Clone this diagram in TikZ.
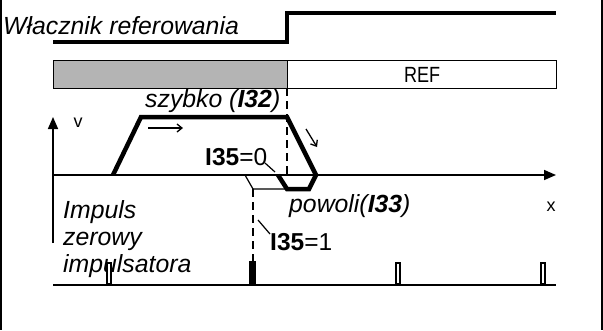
\documentclass[tikz,border=0pt]{standalone}
\usepackage{fontspec}
\setmainfont{Liberation Sans}
\usetikzlibrary{arrows.meta}
\definecolor{barGray}{HTML}{B4B4B4}
\begin{document}
\begin{tikzpicture}[x=1pt,y=-1pt,
  bigtxt/.style={font=\fontsize{24.8}{28}\selectfont\itshape, inner sep=0pt},
  plaintxt/.style={font=\fontsize{24.5}{28}\selectfont, inner sep=0pt},
  smalltxt/.style={font=\fontsize{18}{20}\selectfont, inner sep=0pt},
  frameline/.style={line width=1.8pt},
  sig/.style={line width=4pt, line join=miter},
  prof/.style={line width=4.5pt, line join=miter},
  axisline/.style={line width=1.6pt},
  axisarrow/.style={line width=1.6pt, -{Triangle[length=12pt,width=10pt]}},
  dashline/.style={line width=1.5pt, dash pattern=on 8pt off 5pt},
  thinline/.style={line width=1.2pt},
  smallarrow/.style={line width=1.3pt, -{Straight Barb[length=5pt,width=8pt]}},
  barbox/.style={draw, line width=1.2pt, inner sep=0pt, anchor=north west, minimum height=28pt},
  pulseopen/.style={draw, fill=white, line width=2.4pt, inner sep=0pt, anchor=south west, minimum width=3.6pt, minimum height=21pt},
  pulsefull/.style={draw, fill=black, line width=1pt, inner sep=0pt, anchor=south west, minimum width=6pt, minimum height=23pt},
]
\useasboundingbox (0,0) rectangle (603,330);
% frame
\draw[frameline] (1,0) -- (1,330);
\draw[frameline] (602,0) -- (602,330);

% switch signal
\node[bigtxt, anchor=base west] (title) at (3,34) {Włacznik referowania};
\coordinate (s0) at (53,42);
\coordinate (s1) at (287,42);
\coordinate (s2) at (287,13);
\coordinate (s3) at (556,13);
\draw[sig] (s0) -- (s1) -- (s2) -- (s3);

% bars
\node[barbox, fill=barGray, minimum width=234pt] (slowbar) at (53,60) {};
\node[barbox, fill=white, minimum width=269pt, font=\fontsize{22}{24}\selectfont] (refbar) at (287,60) {\scalebox{0.82}[1]{REF}};

% axes
\coordinate (vbot) at (53,243);
\coordinate (vtop) at (53,117);
\coordinate (xl) at (53,175);
\coordinate (xr) at (556,175);
\draw[axisarrow] (vbot) -- (vtop);
\draw[axisarrow] (xl) -- (xr);
\node[smalltxt] (vlab) at (78,123) {v};
\node[smalltxt] (xlab) at (551,207) {x};

% dashed lines
\coordinate (d1a) at (287,88);
\coordinate (d1b) at (287,175);
\draw[dashline] (d1a) -- (d1b);
\coordinate (d2a) at (253,189);
\coordinate (d2b) at (253,262);
\draw[dashline] (d2a) -- (d2b);

% thin profile
\coordinate (t0) at (245,175);
\coordinate (t1) at (253,189);
\coordinate (t2) at (287,189);
\draw[thinline] (t0) -- (t1) -- (t2);

% thick velocity profile
\coordinate (p0) at (113,175);
\coordinate (p1) at (141,117);
\coordinate (p2) at (287,117);
\coordinate (p3) at (316,175);
\coordinate (p4) at (309,189);
\coordinate (p5) at (287,189);
\coordinate (p6) at (278,175);
\draw[prof] (p0) -- (p1) -- (p2) -- (p3) -- (p4) -- (p5) -- (p6);

% small arrows
\coordinate (a0) at (148,128);
\coordinate (a1) at (183,128);
\draw[smallarrow] (a0) -- (a1);
\coordinate (b0) at (306,129);
\coordinate (b1) at (317,147);
\draw[smallarrow] (b0) -- (b1);

% labels
\node[bigtxt, anchor=base west] (fast) at (145,107) {szybko (\textbf{I32})};
\node[plaintxt, anchor=base west] (i35a) at (205,165) {\textbf{I35}=0};
\node[bigtxt, anchor=base west] (slow) at (289,212) {powoli(\textbf{I33})};
\node[plaintxt, anchor=base west] (i35b) at (270,250) {\textbf{I35}=1};
\coordinate (l1a) at (265,163);
\coordinate (l1b) at (275,172);
\draw[thinline] (l1a) -- (l1b);
\coordinate (l2a) at (258,220);
\coordinate (l2b) at (270,234);
\draw[thinline] (l2a) -- (l2b);

\node[bigtxt, anchor=base west] (imp1) at (63,218) {Impuls};
\node[bigtxt, anchor=base west] (imp2) at (63,245) {zerowy};
\node[bigtxt, anchor=base west] (imp3) at (63,272) {impulsatora};

% pulse train
\coordinate (pl) at (53,285);
\coordinate (pr) at (556,285);
\draw[axisline] (pl) -- (pr);
\node[pulseopen] (pu1) at (106,285) {};
\node[pulsefull] (pu2) at (249,285) {};
\node[pulseopen] (pu3) at (395,285) {};
\node[pulseopen] (pu4) at (540,285) {};
\end{tikzpicture}
\end{document}
